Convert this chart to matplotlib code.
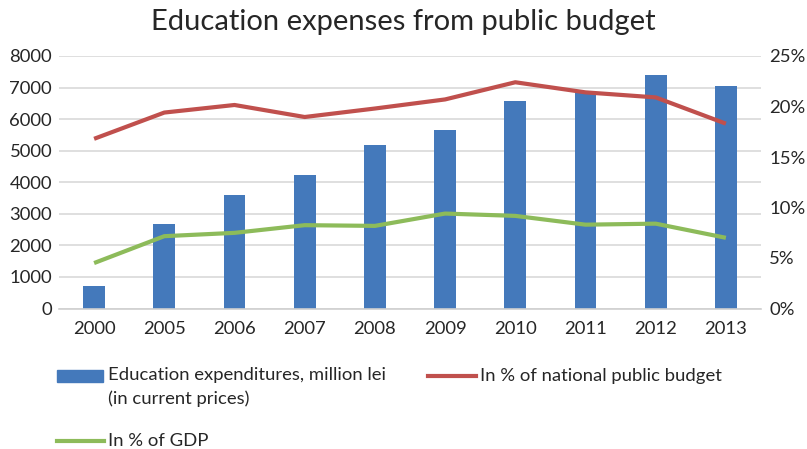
import matplotlib
matplotlib.use("Agg")
import matplotlib.pyplot as plt
from matplotlib.patches import Rectangle
from matplotlib.lines import Line2D
from matplotlib.ticker import FuncFormatter

years = ["2000", "2005", "2006", "2007", "2008", "2009", "2010", "2011", "2012", "2013"]
expenditures = [707, 2690, 3600, 4240, 5170, 5670, 6575, 6900, 7400, 7060]
pct_budget = [16.8, 19.4, 20.15, 18.96, 19.8, 20.7, 22.4, 21.4, 20.9, 18.3]
pct_gdp = [4.5, 7.16, 7.49, 8.25, 8.18, 9.4, 9.17, 8.3, 8.4, 7.0]
labels = ["Education expenditures, million lei\n(in current prices)",
          "In % of national public budget", "In % of GDP"]
title = "Education expenses from public budget"

plt.rcParams['font.family'] = ['Lato', 'DejaVu Sans']
blue = '#4479bb'
red = '#c0504d'
green = '#8dbb5a'
txt = '#262626'

W, H = 807, 449
fig = plt.figure(figsize=(W/100, H/100), dpi=100)
ax = fig.add_axes([59/W, 1-308.5/H, 702/W, 252.5/H])
x = list(range(len(years)))
ax.bar(x, expenditures, width=0.31, color=blue, zorder=2)
ax.set_ylim(0, 8000)
ax.set_xlim(-0.5, 9.5)
ax.set_yticks(range(0, 8001, 1000))
ax.set_xticks(x)
ax.set_xticklabels(years)
ax.grid(axis='y', color='#d9d9d9', linewidth=1.2, zorder=0)
ax.set_axisbelow(True)
for s in ['top', 'right', 'left']:
    ax.spines[s].set_visible(False)
ax.spines['bottom'].set_color('#d0d0d0')
ax.spines['bottom'].set_linewidth(1.2)
ax.tick_params(axis='y', length=0, labelsize=13.3, colors=txt, pad=5)
ax.tick_params(axis='x', length=0, labelsize=13.3, colors=txt, pad=9)

ax2 = ax.twinx()
ax2.plot(x, pct_budget, color=red, linewidth=3, solid_capstyle='butt', zorder=3)
ax2.plot(x, pct_gdp, color=green, linewidth=3, solid_capstyle='butt', zorder=3)
ax2.set_ylim(0, 25)
ax2.set_yticks(range(0, 26, 5))
ax2.yaxis.set_major_formatter(FuncFormatter(lambda v, p: f"{int(v)}%"))
for s in ['top', 'right', 'left', 'bottom']:
    ax2.spines[s].set_visible(False)
ax2.tick_params(length=0, labelsize=13.3, colors=txt, pad=6)

fig.text(0.5, 1-22/H, title, ha='center', va='center', fontsize=21, color=txt)

# legend (drawn manually to match the reference layout)
fig.add_artist(Rectangle((57/W, 1-382/H), 46/W, 12/H, transform=fig.transFigure,
                         color=blue))
fig.text(108/W, 1-367/H, labels[0], ha='left', va='top', fontsize=13.3, color=txt,
         linespacing=1.55)
fig.add_artist(Line2D([428/W, 476/W], [1-376/H, 1-376/H], transform=fig.transFigure,
                      color=red, lw=3))
fig.text(480/W, 1-376/H, labels[1], ha='left', va='center', fontsize=13.3, color=txt)
fig.add_artist(Line2D([57/W, 104/W], [1-441/H, 1-441/H], transform=fig.transFigure,
                      color=green, lw=3))
fig.text(108/W, 1-441/H, labels[2], ha='left', va='center', fontsize=13.3, color=txt)

fig.savefig("out.png", dpi=100)
